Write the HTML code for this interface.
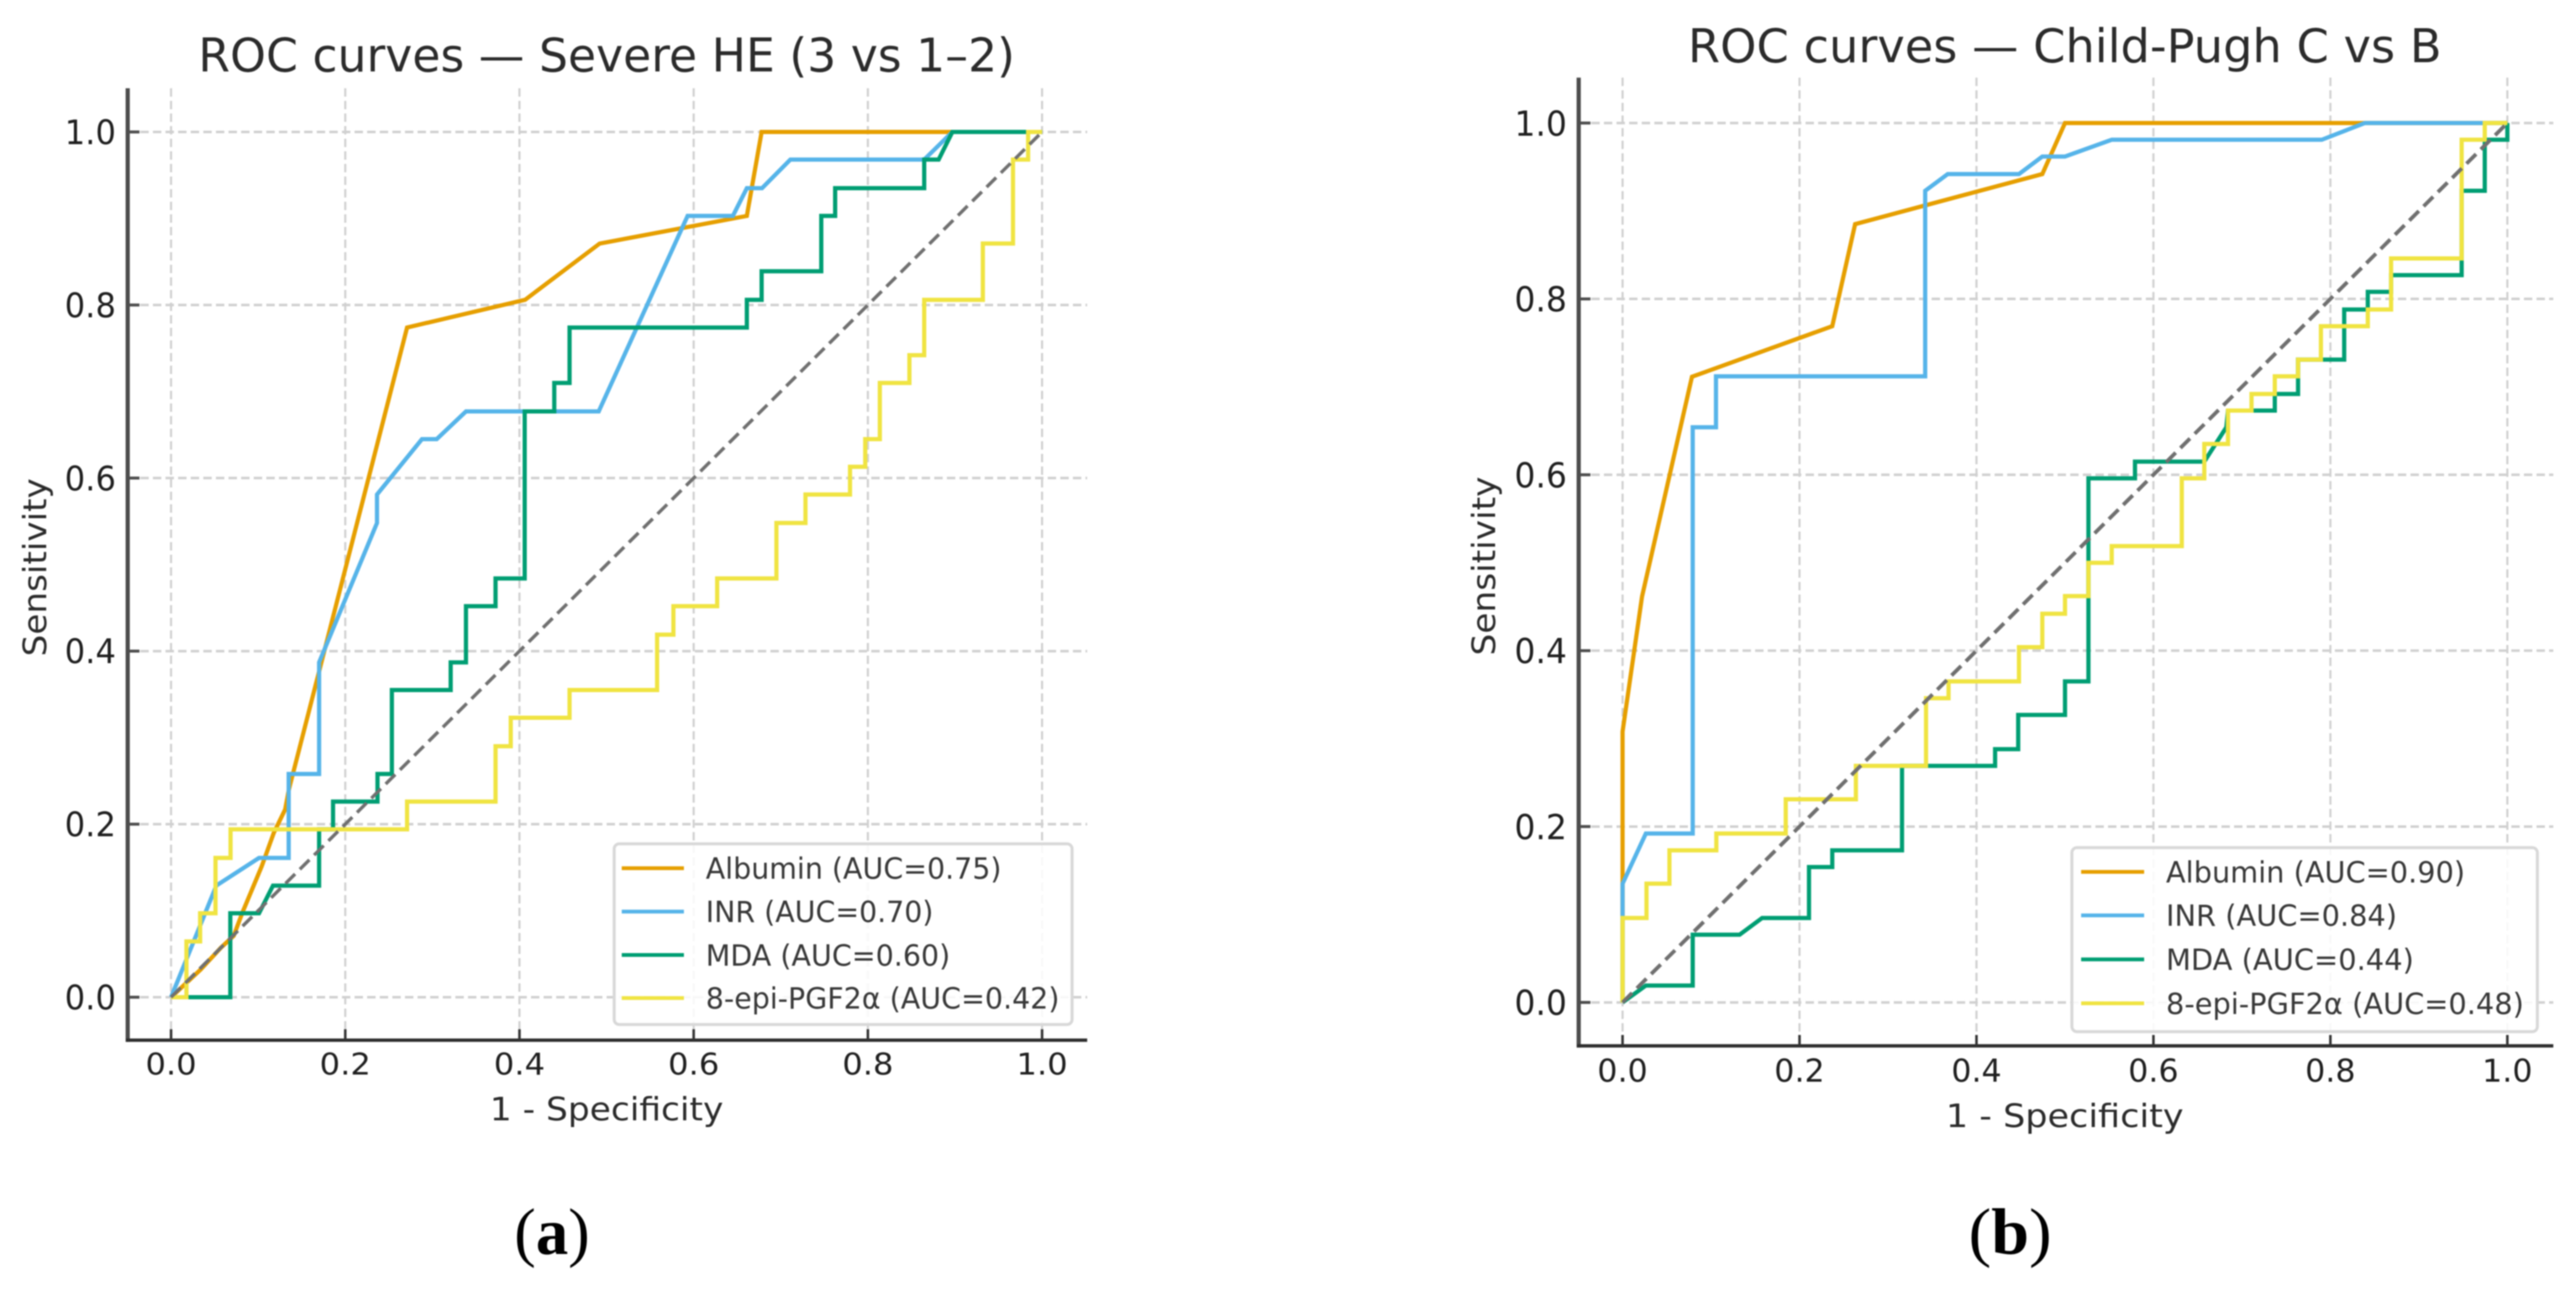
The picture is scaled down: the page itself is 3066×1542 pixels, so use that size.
<!DOCTYPE html>
<html lang="en">
<head>
<meta charset="utf-8">
<title>ROC curves</title>
<style>
html,body{margin:0;padding:0;background:#fff;width:3066px;height:1542px;overflow:hidden}
svg{display:block;filter:blur(0.8px)}
text{font-family:"DejaVu Sans","Liberation Sans",sans-serif}
.title{font-size:55px;fill:#2b2b2b}
.axis-label{font-size:38px;fill:#2b2b2b}
.legend-text{font-size:35px;fill:#383838}
.panel-label{font-family:"Liberation Serif",serif;font-size:78px;font-weight:bold;fill:#000}
.panel-paren{font-weight:normal}
.tick-label{fill:#1f1f1f}
</style>
</head>
<body>
<svg id="figure" xmlns="http://www.w3.org/2000/svg" width="3066" height="1542" viewBox="0 0 3066 1542">
  <rect width="3066" height="1542" fill="#fff"/>

  <g id="panel-a">
    <text class="title" x="236" y="85" textLength="972" lengthAdjust="spacingAndGlyphs">ROC curves — Severe HE (3 vs 1–2)</text>
    <g id="plot-a"></g>
    <text class="axis-label" x="583" y="1333" textLength="278" lengthAdjust="spacingAndGlyphs">1 - Specificity</text>
    <text class="axis-label" transform="translate(55,781) rotate(-90)" font-size="40" textLength="212" lengthAdjust="spacingAndGlyphs">Sensitivity</text>
    <g>
      <rect x="731" y="1004" width="545" height="215" rx="6" fill="#fff" fill-opacity="0.85" stroke="#d8d8d8" stroke-width="3.5"/>
      <g>
        <line x1="740" x2="814" y1="1033" y2="1033" stroke="#E69F00" stroke-width="4.5"/>
        <text class="legend-text" x="840" y="1045.5" textLength="352" lengthAdjust="spacingAndGlyphs">Albumin (AUC=0.75)</text>
      </g>
      <g>
        <line x1="740" x2="814" y1="1084.6" y2="1084.6" stroke="#56B4E9" stroke-width="4.5"/>
        <text class="legend-text" x="840" y="1097" textLength="271" lengthAdjust="spacingAndGlyphs">INR (AUC=0.70)</text>
      </g>
      <g>
        <line x1="740" x2="814" y1="1136.3" y2="1136.3" stroke="#009E73" stroke-width="4.5"/>
        <text class="legend-text" x="840" y="1149" textLength="291" lengthAdjust="spacingAndGlyphs">MDA (AUC=0.60)</text>
      </g>
      <g>
        <line x1="740" x2="814" y1="1187.5" y2="1187.5" stroke="#F0E442" stroke-width="4.5"/>
        <text class="legend-text" x="840" y="1200" textLength="421" lengthAdjust="spacingAndGlyphs">8-epi-PGF2α (AUC=0.42)</text>
      </g>
    </g>
    <text class="panel-label" x="612" y="1492" textLength="90" lengthAdjust="spacingAndGlyphs"><tspan class="panel-paren">(</tspan>a<tspan class="panel-paren">)</tspan></text>
  </g>

  <g id="panel-b">
    <text class="title" x="2009" y="74" textLength="897" lengthAdjust="spacingAndGlyphs">ROC curves — Child-Pugh C vs B</text>
    <g id="plot-b"></g>
    <text class="axis-label" x="2316" y="1341" textLength="283" lengthAdjust="spacingAndGlyphs">1 - Specificity</text>
    <text class="axis-label" transform="translate(1779.5,780) rotate(-90)" font-size="40" textLength="213" lengthAdjust="spacingAndGlyphs">Sensitivity</text>
    <g>
      <rect x="2466" y="1008.5" width="554" height="219" rx="6" fill="#fff" fill-opacity="0.85" stroke="#d8d8d8" stroke-width="3.5"/>
      <g>
        <line x1="2477" x2="2552" y1="1037.4" y2="1037.4" stroke="#E69F00" stroke-width="4.5"/>
        <text class="legend-text" x="2578" y="1050" textLength="356" lengthAdjust="spacingAndGlyphs">Albumin (AUC=0.90)</text>
      </g>
      <g>
        <line x1="2477" x2="2552" y1="1089.1" y2="1089.1" stroke="#56B4E9" stroke-width="4.5"/>
        <text class="legend-text" x="2578" y="1101.6" textLength="275" lengthAdjust="spacingAndGlyphs">INR (AUC=0.84)</text>
      </g>
      <g>
        <line x1="2477" x2="2552" y1="1141.5" y2="1141.5" stroke="#009E73" stroke-width="4.5"/>
        <text class="legend-text" x="2578" y="1154" textLength="295" lengthAdjust="spacingAndGlyphs">MDA (AUC=0.44)</text>
      </g>
      <g>
        <line x1="2477" x2="2552" y1="1193.8" y2="1193.8" stroke="#F0E442" stroke-width="4.5"/>
        <text class="legend-text" x="2578" y="1206.3" textLength="426" lengthAdjust="spacingAndGlyphs">8-epi-PGF2α (AUC=0.48)</text>
      </g>
    </g>
    <text class="panel-label" x="2343" y="1492" textLength="99" lengthAdjust="spacingAndGlyphs"><tspan class="panel-paren">(</tspan>b<tspan class="panel-paren">)</tspan></text>
  </g>
</svg>

<script>
// Axis tick labels (shared by both panels and both axes)
const tickLabels = ['0.0', '0.2', '0.4', '0.6', '0.8', '1.0'];

// Series names
const seriesNames = ['albumin', 'inr', 'mda', '8-epi-pgf2a'];

// Panel (a): [1 - specificity, sensitivity]
const aAlbumin = [[0,0],[.034,.032],[.057,.057],[.072,.071],[.082,.098],[.104,.151],[.118,.19],[.131,.217],[.135,.239],[.271,.774],[.4065,.806],[.492,.871],[.661,.903],[.678,1],[.897,1],[1,1]];
const aInr = [[0,0],[.052,.129],[.101,.161],[.135,.161],[.135,.258],[.17,.258],[.17,.387],[.2364,.548],[.2364,.581],[.288,.645],[.305,.645],[.3386,.677],[.491,.677],[.593,.903],[.645,.903],[.661,.935],[.6785,.935],[.711,.968],[.8647,.968],[.897,1],[1,1]];
const aMda = [[0,0],[.068,0],[.068,.097],[.101,.097],[.117,.129],[.17,.129],[.17,.194],[.186,.194],[.186,.226],[.237,.226],[.237,.258],[.2535,.258],[.2535,.355],[.321,.355],[.321,.387],[.3386,.387],[.3386,.452],[.3725,.452],[.3725,.484],[.406,.484],[.406,.677],[.44,.677],[.44,.71],[.4575,.71],[.4575,.774],[.661,.774],[.661,.806],[.678,.806],[.678,.839],[.7465,.839],[.7465,.903],[.7624,.903],[.7624,.935],[.8647,.935],[.8647,.968],[.8813,.968],[.897,1],[1,1]];
const aEpi = [[0,0],[.0177,0],[.0177,.0645],[.0334,.0645],[.0334,.097],[.051,.097],[.051,.161],[.0683,.161],[.0683,.194],[.271,.194],[.271,.226],[.3725,.226],[.3725,.29],[.39,.29],[.39,.323],[.4575,.323],[.4575,.355],[.558,.355],[.558,.419],[.5767,.419],[.5767,.452],[.627,.452],[.627,.484],[.695,.484],[.695,.548],[.7284,.548],[.7284,.581],[.7795,.581],[.7795,.613],[.797,.613],[.797,.645],[.8137,.645],[.8137,.71],[.8477,.71],[.8477,.742],[.8647,.742],[.8647,.806],[.932,.806],[.932,.871],[.9666,.871],[.9666,.968],[.984,.968],[.984,1],[1,1]];

// Panel (b): [1 - specificity, sensitivity]
const bAlbumin = [[0,0],[0,.308],[.022,.4616],[.0784,.7115],[.237,.769],[.2628,.885],[.4744,.942],[.5,1],[.8389,1],[1,1]];
const bInr = [[0,0],[0,.135],[.0263,.192],[.0793,.192],[.0793,.654],[.1056,.654],[.1056,.712],[.342,.712],[.342,.923],[.3675,.942],[.448,.942],[.4744,.962],[.5,.962],[.5528,.981],[.7902,.981],[.8389,1],[1,1]];
const bMda = [[0,0],[.0263,.0192],[.0793,.0192],[.0793,.077],[.1323,.077],[.1577,.096],[.2107,.096],[.2107,.154],[.237,.154],[.237,.173],[.3158,.173],[.3158,.269],[.421,.269],[.421,.288],[.4472,.288],[.4472,.327],[.5,.327],[.5,.365],[.5265,.365],[.5265,.596],[.5791,.596],[.5791,.615],[.6575,.615],[.6824,.654],[.6843,.673],[.7372,.673],[.7372,.692],[.7635,.692],[.7635,.731],[.8156,.731],[.8156,.788],[.8423,.788],[.8423,.808],[.8686,.808],[.8686,.827],[.9483,.827],[.9483,.923],[.9745,.923],[.9745,.981],[1,.981],[1,1]];
const bEpi = [[0,0],[0,.096],[.0271,.096],[.0271,.135],[.053,.135],[.053,.173],[.106,.173],[.106,.192],[.1844,.192],[.1844,.231],[.2637,.231],[.2637,.269],[.343,.269],[.343,.346],[.3684,.346],[.3684,.365],[.448,.365],[.448,.404],[.4744,.404],[.4744,.442],[.5,.442],[.5,.462],[.5265,.462],[.5265,.5],[.5528,.5],[.5528,.519],[.632,.519],[.632,.596],[.6575,.596],[.6575,.635],[.6843,.635],[.6843,.673],[.7109,.673],[.7109,.692],[.7372,.692],[.7372,.712],[.7635,.712],[.7635,.731],[.7893,.731],[.7893,.769],[.8423,.769],[.8423,.788],[.8686,.788],[.8686,.846],[.9483,.846],[.9483,.981],[.9745,.981],[.9745,1],[1,1]];

const seriesColors = ['#E69F00', '#56B4E9', '#009E73', '#F0E442'];
const NS = 'http://www.w3.org/2000/svg';

function mk(parent, tag, attrs) {
  const el = document.createElementNS(NS, tag);
  for (const k in attrs) el.setAttribute(k, attrs[k]);
  parent.appendChild(el);
  return el;
}

function drawPanel(cfg, series) {
  const g = document.getElementById(cfg.id);
  const xScale = v => cfg.x0 + v * (cfg.x1 - cfg.x0);
  const yScale = v => cfg.y0 + v * (cfg.y1 - cfg.y0);

  tickLabels.forEach(label => {
    const v = parseFloat(label);
    const gx = mk(g, 'line', {x1: xScale(v), x2: xScale(v), y1: cfg.top, y2: cfg.bottom, stroke: '#d0d0d0', 'stroke-width': cfg.gridV, 'stroke-dasharray': '10 5'});
    
    
    const gy = mk(g, 'line', {x1: cfg.left, x2: cfg.right, y1: yScale(v), y2: yScale(v), stroke: '#d0d0d0', 'stroke-width': cfg.gridH, 'stroke-dasharray': '10 5'});
    
    
  });

  series.forEach((pts, i) => {
    const d = pts.map(p => xScale(p[0]).toFixed(1) + ',' + yScale(p[1]).toFixed(1)).join(' ');
    const line = mk(g, 'polyline', {points: d, fill: 'none', stroke: seriesColors[i], 'stroke-width': cfg.lineW, 'stroke-linejoin': 'miter'});
    
    
  });

  const diag = mk(g, 'line', {x1: xScale(0), y1: yScale(0), x2: xScale(1), y2: yScale(1), stroke: '#707070', 'stroke-width': cfg.diagW, 'stroke-dasharray': '16 8'});
  
  

  const left = mk(g, 'line', {x1: cfg.left, x2: cfg.left, y1: cfg.top, y2: cfg.bottom + 2, stroke: '#4d4d4d', 'stroke-width': 5});
  
  
  const bottom = mk(g, 'line', {x1: cfg.left - 2, x2: cfg.right, y1: cfg.bottom, y2: cfg.bottom, stroke: '#2e2e2e', 'stroke-width': 4});
  
  

  tickLabels.forEach(label => {
    const v = parseFloat(label);
    const tx = mk(g, 'line', {x1: xScale(v), x2: xScale(v), y1: cfg.bottom, y2: cfg.bottom - 13, stroke: '#333', 'stroke-width': 3});
    
    
    const ty = mk(g, 'line', {x1: cfg.left, x2: cfg.left + 14, y1: yScale(v), y2: yScale(v), stroke: '#4d4d4d', 'stroke-width': 3.5});
    
    

    const xl = mk(g, 'text', {class: 'tick-label', x: xScale(v) - cfg.xTickW / 2, y: cfg.xTickBase, 'font-size': cfg.xTickFont, textLength: cfg.xTickW, lengthAdjust: 'spacingAndGlyphs'});
    xl.textContent = label;
    
    
    const yl = mk(g, 'text', {class: 'tick-label', x: cfg.yTickRight - cfg.yTickW, y: yScale(v) + cfg.yTickDy, 'font-size': cfg.yTickFont, textLength: cfg.yTickW, lengthAdjust: 'spacingAndGlyphs'});
    yl.textContent = label;
    
    
  });
}

drawPanel({
  id: 'plot-a', x0: 203.6, x1: 1240.3, y0: 1186.5, y1: 157,
  left: 152, right: 1294, top: 105, bottom: 1237.6,
  gridV: 2.5, gridH: 3, lineW: 5, diagW: 4,
  xTickW: 61, xTickBase: 1278.5, xTickFont: 36,
  yTickW: 61, yTickRight: 138, yTickDy: 14.5, yTickFont: 40
}, [aAlbumin, aInr, aMda, aEpi]);

drawPanel({
  id: 'plot-b', x0: 1931.2, x1: 2984.3, y0: 1192.7, y1: 146.4,
  left: 1879, right: 3039, top: 92.4, bottom: 1244.4,
  gridV: 2.5, gridH: 3, lineW: 5, diagW: 4.5,
  xTickW: 60, xTickBase: 1287, xTickFont: 37,
  yTickW: 62.5, yTickRight: 1865, yTickDy: 15, yTickFont: 41
}, [bAlbumin, bInr, bMda, bEpi]);
</script>
</body>
</html>
